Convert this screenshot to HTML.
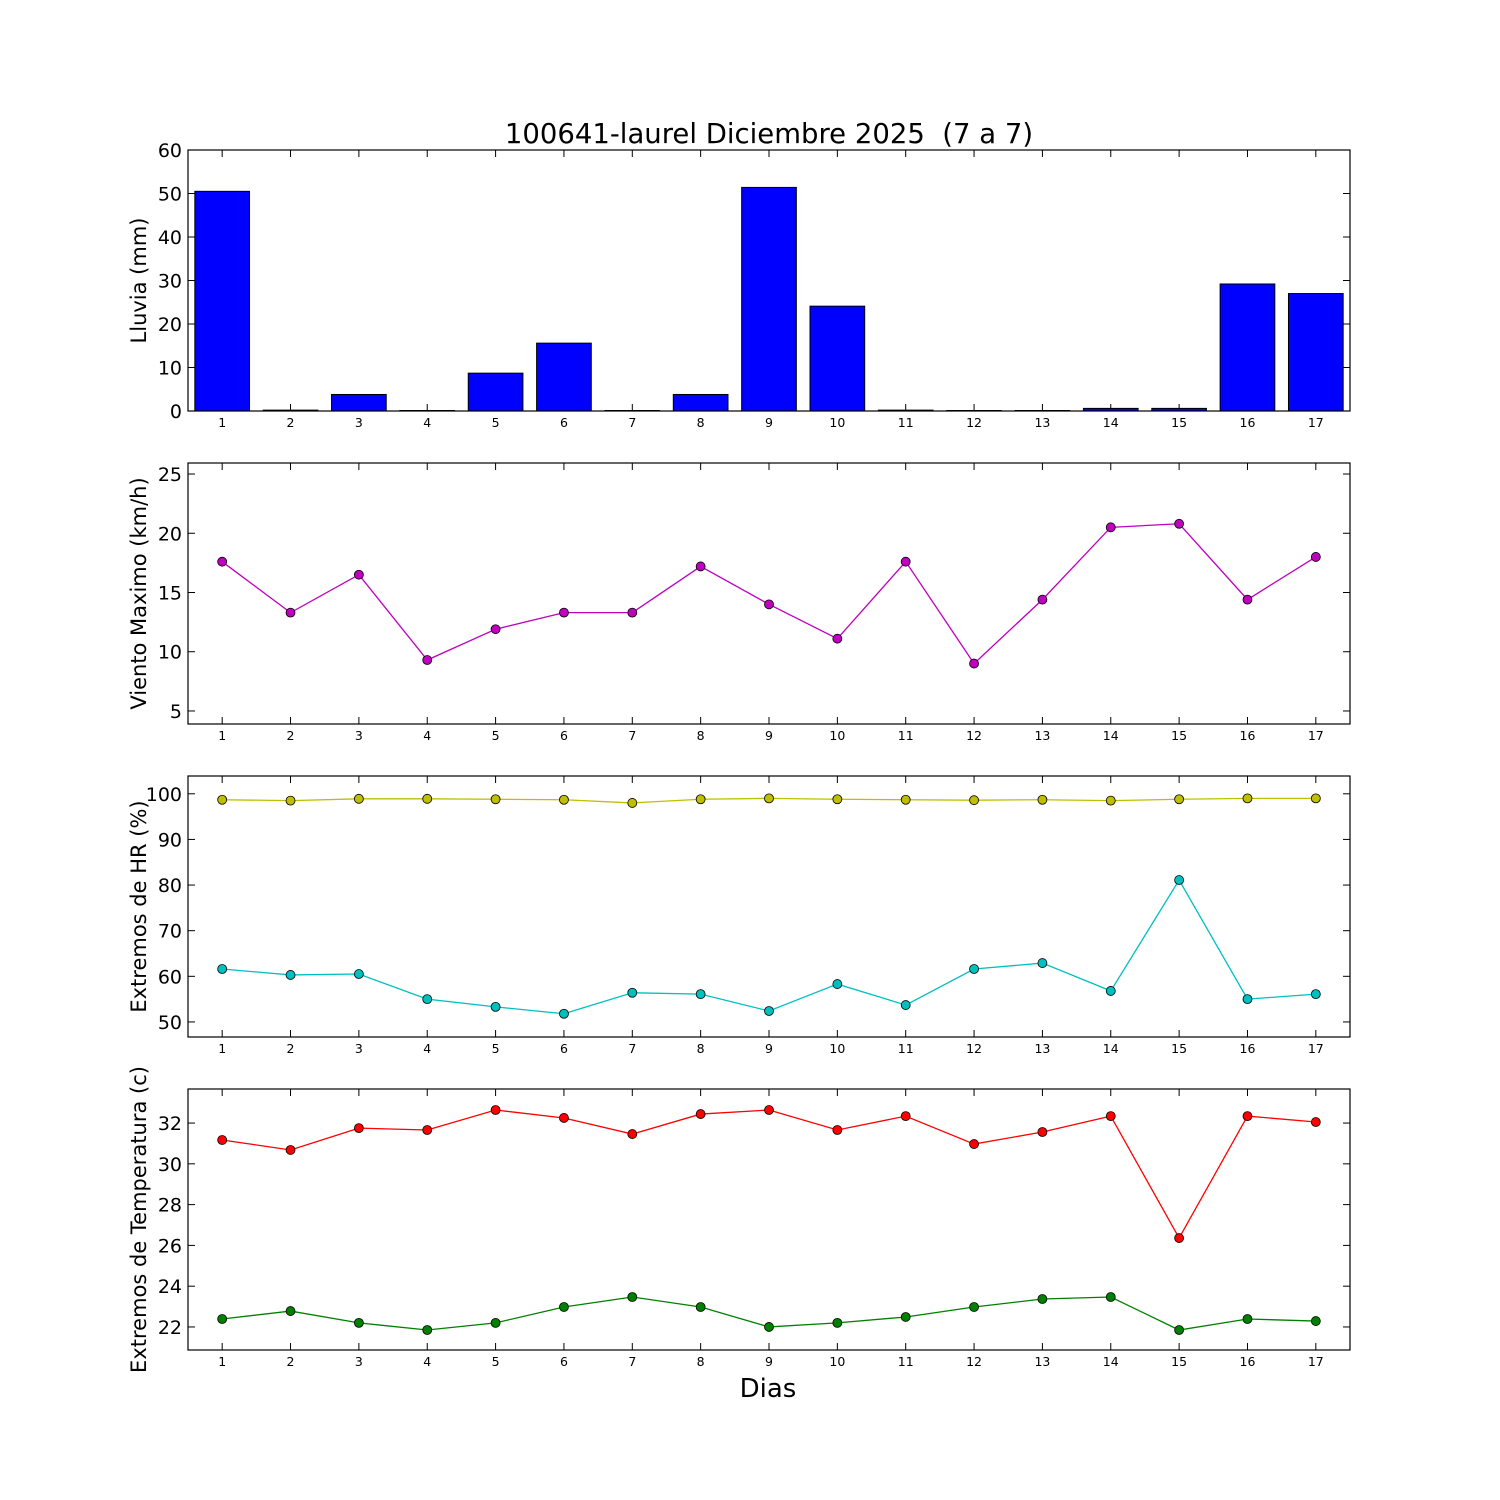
<!DOCTYPE html>
<html><head><meta charset="utf-8"><style>
body{margin:0;background:#fff}
svg{display:block;font-family:"DejaVu Sans","Liberation Sans",sans-serif}
text{white-space:pre}
</style></head><body>
<svg id="c" width="1500" height="1500" xmlns="http://www.w3.org/2000/svg"></svg>
<script>
const days=[1,2,3,4,5,6,7,8,9,10,11,12,13,14,15,16,17];
const rain=[50.5,0.2,3.8,0,8.7,15.6,0,3.8,51.4,24.1,0.2,0,0,0.6,0.6,29.2,27.0];
const wind=[17.6,13.3,16.5,9.3,11.9,13.3,13.3,17.2,14.0,11.1,17.6,9.0,14.4,20.5,20.8,14.4,18.0];
const hrMax=[98.7,98.5,98.9,98.9,98.8,98.7,98.0,98.8,99.0,98.8,98.7,98.6,98.7,98.5,98.8,99.0,99.0];
const hrMin=[61.6,60.3,60.5,55.0,53.3,51.8,56.4,56.1,52.4,58.3,53.7,61.6,62.9,56.8,81.1,55.0,56.1];
const tMax=[31.17,30.68,31.75,31.66,32.64,32.25,31.46,32.44,32.64,31.66,32.34,30.97,31.56,32.34,26.36,32.34,32.05];
const tMin=[22.39,22.78,22.2,21.85,22.2,22.98,23.47,22.98,22.0,22.2,22.49,22.98,23.37,23.47,21.85,22.39,22.29];
const rainTicks=[0,10,20,30,40,50,60];
const windTicks=[5,10,15,20,25];
const hrTicks=[50,60,70,80,90,100];
const tTicks=[22,24,26,28,30,32];

const svg=document.getElementById('c');
const NS='http://www.w3.org/2000/svg';
function el(t,a,p){const e=document.createElementNS(NS,t);for(const k in a)e.setAttribute(k,a[k]);(p||svg).appendChild(e);return e;}
const X0=188,X1=1350;
const xs=d=>X0+(d-0.5)/17*(X1-X0);

function panel(name,top,bot,ymin,ymax,ticks,label){
  const g=el('g',{});
  
  
  const ys=v=>bot-(v-ymin)/(ymax-ymin)*(bot-top);
  ticks.forEach(t=>{const y=ys(t);
    el('line',{x1:X0,x2:X0+7,y1:y,y2:y,stroke:'#000'},g);
    el('line',{x1:X1-7,x2:X1,y1:y,y2:y,stroke:'#000'},g);
    const tx=el('text',{x:X0-6,y:y+7,'text-anchor':'end','font-size':19},g);tx.textContent=t;
    
  });
  days.forEach(d=>{const x=xs(d);
    el('line',{x1:x,x2:x,y1:bot,y2:bot-7,stroke:'#000'},g);
    el('line',{x1:x,x2:x,y1:top,y2:top+7,stroke:'#000'},g);
    const tx=el('text',{x:x,y:bot+16,'text-anchor':'middle','font-size':12.5},g);tx.textContent=d;
    
  });
  const yl=el('text',{x:0,y:0,'text-anchor':'middle','font-size':21,transform:`translate(146,${(top+bot)/2}) rotate(-90)`},g);
  yl.textContent=label;
  
  return {g,ys,top,bot};
}
function frame(p){el('rect',{x:X0,y:p.top,width:X1-X0,height:p.bot-p.top,fill:'none',stroke:'#000','stroke-width':1.2},p.g);}
function series(p,vals,color,name){
  const pts=vals.map((v,i)=>xs(days[i])+','+p.ys(v)).join(' ');
  const l=el('polyline',{points:pts,fill:'none',stroke:color,'stroke-width':1.3},p.g);
  
  vals.forEach((v,i)=>{const c=el('circle',{cx:xs(days[i]),cy:p.ys(v),r:4.5,fill:color,stroke:'#000','stroke-width':0.8},p.g);
    });
}

const title=el('text',{x:769,y:143,'text-anchor':'middle','font-size':27.5});
title.textContent='100641-laurel Diciembre 2025  (7 a 7)';


const p1=panel('rain-panel',150,411,0,60,rainTicks,'Lluvia (mm)');
rain.forEach((v,i)=>{const x=xs(days[i]);const bw=0.8*(X1-X0)/17;
  const h=Math.max(p1.ys(0)-p1.ys(v),0.5);
  const r=el('rect',{x:x-bw/2,y:p1.ys(0)-h,width:bw,height:h,fill:'#0000ff',stroke:'#000','stroke-width':1},p1.g);
  });
frame(p1);

const p2=panel('wind-panel',463,724,3.9,25.93,windTicks,'Viento Maximo (km/h)');
series(p2,wind,'#bf00bf','wind');frame(p2);

const p3=panel('humidity-panel',776,1037,46.7,103.9,hrTicks,'Extremos de HR (%)');
series(p3,hrMax,'#bfbf00','hr-max');series(p3,hrMin,'#00bfbf','hr-min');frame(p3);

const p4=panel('temperature-panel',1089,1350,20.87,33.67,tTicks,'Extremos de Temperatura (c)');
series(p4,tMax,'#ff0000','temp-max');series(p4,tMin,'#008000','temp-min');frame(p4);

const xl=el('text',{x:768,y:1397,'text-anchor':'middle','font-size':26});
xl.textContent='Dias';

</script>
</body></html>
